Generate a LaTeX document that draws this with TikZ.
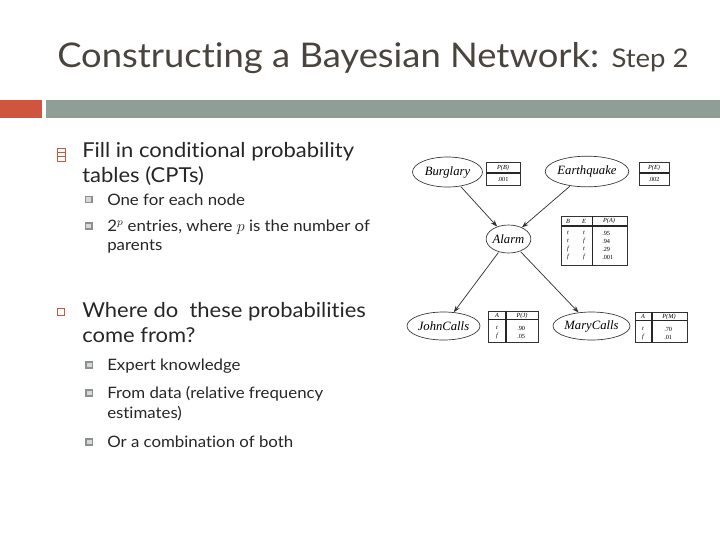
\documentclass[tikz,border=0pt]{standalone}
\usepackage{fontspec}
\setmainfont{Lato}[FakeStretch=1.07,Ligatures=NoCommon]
\newfontfamily\dserif{Liberation Serif}
\usetikzlibrary{shapes.geometric,arrows.meta}
\definecolor{titlec}{HTML}{4A443F}
\definecolor{bodyc}{HTML}{262626}
\definecolor{redc}{HTML}{CF553E}
\definecolor{grayc}{HTML}{8F9E96}
\definecolor{subbul}{HTML}{8C918D}
\begin{document}
\begin{tikzpicture}[x=0.75pt,y=-0.75pt,
  titletxt/.style={anchor=base west,inner sep=0,text=titlec,font=\fontsize{25.5}{30}\selectfont},
  mainline/.style={anchor=base west,inner sep=0,text=bodyc,font=\fontsize{15.4}{18}\selectfont},
  subline/.style={anchor=base west,inner sep=0,text=bodyc,font=\fontsize{11.8}{14}\selectfont},
  subbox/.style={draw=subbul,fill=subbul!35,line width=0.9pt},
  bn/.style={ellipse,draw=black!80,line width=0.5pt,inner sep=0,font=\dserif\itshape\fontsize{9.5}{11}\selectfont},
  arr/.style={draw=black!80,line width=0.55pt,-{Stealth[length=5pt,width=3.6pt]},shorten <=0.5pt},
  cpt/.style={draw=black!80,line width=0.5pt},
  cptrule/.style={draw=black!85,line width=1.1pt},
  tt/.style={inner sep=0,font=\dserif\fontsize{4.7}{5}\selectfont}
]
\useasboundingbox (0,0) rectangle (720,540);
% title
\node[titletxt] (title) at (57,67) {Constructing a Bayesian Network: {\fontsize{19.3}{23}\selectfont Step 2}};
% header bars
\fill[redc] (0,100) rectangle (42,118);
\fill[grayc] (46,100) rectangle (720,118);

% first main bullet (glyph box)
\draw[redc,line width=0.7pt] (57.5,148) rectangle (65,161);
\draw[redc,line width=0.7pt] (57.5,152) -- (65,152);
\draw[redc,line width=0.7pt] (57.5,156.5) -- (65,156.5);
\node[mainline] (l1) at (82,157) {Fill in conditional probability};
\node[mainline] (l2) at (82,182) {tables (CPTs)};
\draw[subbox] (85.5,196.5) rectangle (92,202.5);
\node[subline] (l3) at (107,205) {One for each node};
\draw[subbox] (85.5,223) rectangle (92,229);
\node[subline] (l4) at (107,231) {2$^{p}$ entries, where $p$ is the number of};
\node[subline] (l5) at (107,250) {parents};

% second main bullet
\draw[redc,line width=0.6pt] (57,308) rectangle (64.5,315.5);
\node[mainline] (l6) at (82,317) {Where do\ \ these probabilities};
\node[mainline] (l7) at (82,342) {come from?};
\draw[subbox] (86,362) rectangle (92.5,368);
\node[subline] (l8) at (107,370) {Expert knowledge};
\draw[subbox] (86,390) rectangle (92.5,396);
\node[subline] (l9) at (107,398) {From data (relative frequency};
\node[subline] (l10) at (107,418) {estimates)};
\draw[subbox] (86,439) rectangle (92.5,445);
\node[subline] (l11) at (107,447) {Or a combination of both};

% Bayesian network
\node[bn,minimum width=52.5pt,minimum height=22.5pt] (burg) at (447.5,172) {Burglary};
\node[bn,minimum width=60pt,minimum height=23pt] (earth) at (587,171.5) {Earthquake};
\node[bn,minimum width=32.5pt,minimum height=21pt] (alarm) at (508.5,239) {Alarm};
\node[bn,minimum width=54.75pt,minimum height=21pt] (john) at (443.5,326) {JohnCalls};
\node[bn,minimum width=57.75pt,minimum height=21pt] (mary) at (591.5,326) {MaryCalls};
\draw[arr] (burg) -- (alarm);
\draw[arr] (earth) -- (alarm);
\draw[arr] (alarm) -- (john);
\draw[arr] (alarm) -- (mary);

% CPT P(B)
\draw[cpt] (486,162) rectangle (520,185);
\draw[cptrule] (486,173) -- (520,173);
\node[tt] (pbh) at (503,168) {\itshape P(B)};
\node[tt] (pbv) at (503,179.5) {.001};
% CPT P(E)
\draw[cpt] (639,162) rectangle (669,185);
\draw[cptrule] (639,173) -- (669,173);
\node[tt] (peh) at (654,168) {\itshape P(E)};
\node[tt] (pev) at (654,179.5) {.002};
% CPT P(A)
\draw[cpt] (561,216) rectangle (627,265);
\draw[cptrule] (561,226) -- (627,226);
\draw[cptrule] (592.5,216) -- (592.5,265);
\node[tt] (ab) at (568,221) {\itshape B};
\node[tt] (ae) at (584,221) {\itshape E};
\node[tt] (ap) at (609,221) {\itshape P(A)};
\foreach \b/\e/\v/\y in {t/t/.95/233, t/f/.94/241, f/t/.29/249, f/f/.001/257}{
  \node[tt] at (568,\y) {\itshape \b};
  \node[tt] at (584,\y) {\itshape \e};
  \node[tt,anchor=west] at (602,\y) {\v};
}
% CPT P(J)
\draw[cpt] (488,311) rectangle (538,342);
\draw[cptrule] (488,319.5) -- (538,319.5);
\draw[cptrule] (506,311) -- (506,342);
\node[tt] (ja) at (497,315.5) {\itshape A};
\node[tt] (jp) at (522,315.5) {\itshape P(J)};
\node[tt] at (497,328) {\itshape t};
\node[tt,anchor=west] at (517,328) {.90};
\node[tt] at (497,336) {\itshape f};
\node[tt,anchor=west] at (517,336) {.05};
% CPT P(M)
\draw[cpt] (635,312) rectangle (687,342);
\draw[cptrule] (635,320.5) -- (687,320.5);
\draw[cptrule] (652,312) -- (652,342);
\node[tt] (ma) at (643,316.5) {\itshape A};
\node[tt] (mp) at (669,316.5) {\itshape P(M)};
\node[tt] at (643,329) {\itshape t};
\node[tt,anchor=west] at (664,329) {.70};
\node[tt] at (643,337) {\itshape f};
\node[tt,anchor=west] at (664,337) {.01};
\end{tikzpicture}
\end{document}
